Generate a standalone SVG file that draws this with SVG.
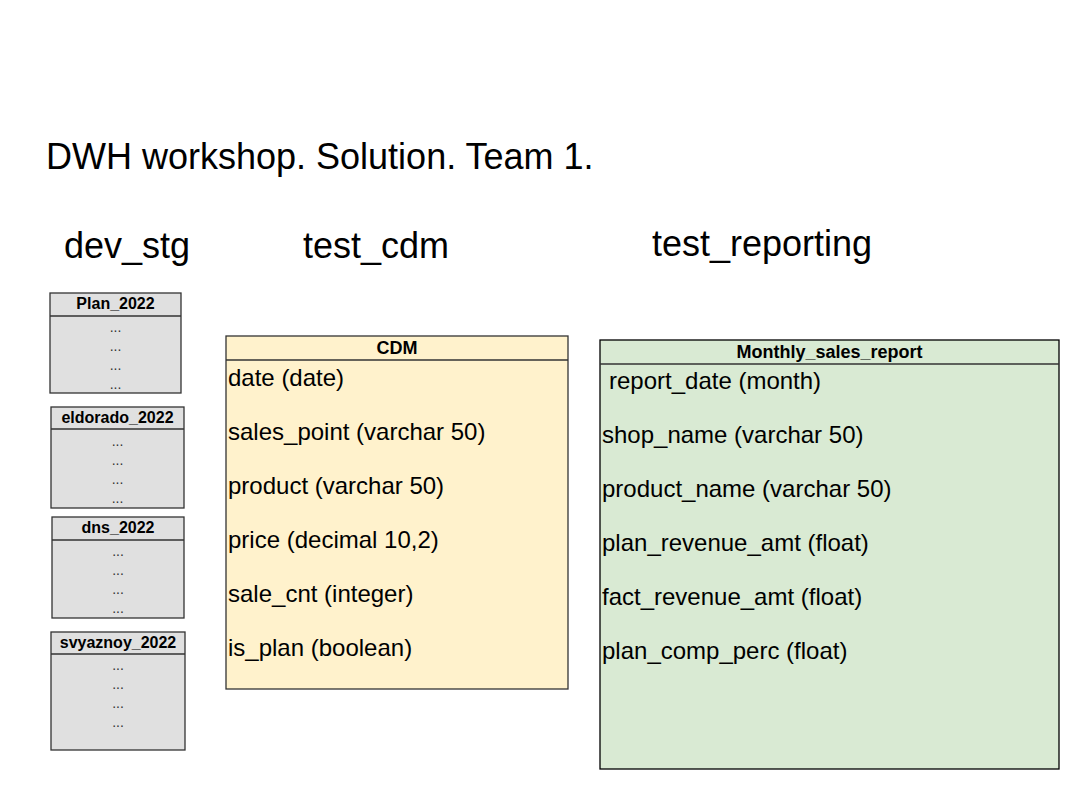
<svg xmlns="http://www.w3.org/2000/svg" width="1080" height="789" viewBox="0 0 1080 789">
<style>
text{font-family:"Liberation Sans",Arial,sans-serif;fill:#000}
.title{font-size:36px}
.schema{font-size:36px}
.hdr{font-size:16px;font-weight:bold;text-anchor:middle}
.hdr2{font-size:18px;font-weight:bold;text-anchor:middle}
.dots{font-size:14px;text-anchor:middle;fill:#333}
.fld{font-size:24px}
.stg{fill:#e0e0e0;stroke:#333;stroke-width:1.3}
.cdm{fill:#fff2cc;stroke:#333;stroke-width:1.3}
.rep{fill:#d9ead3;stroke:#000;stroke-width:1.3}
.sep{stroke:#333;stroke-width:1.3}
</style>
<rect width="1080" height="789" fill="#fff"/>
<text class="title" x="46" y="169">DWH workshop. Solution. Team 1.</text>
<text class="schema" x="64" y="258">dev_stg</text>
<text class="schema" x="303" y="258">test_cdm</text>
<text class="schema" x="652" y="256">test_reporting</text>
<g id="plan_2022">
<rect class="stg" x="50" y="293" width="131" height="100"/>
<line class="sep" x1="50" y1="316" x2="181" y2="316"/>
<text class="hdr" x="115.5" y="309">Plan_2022</text>
<text class="dots" x="115.5" y="332">...</text>
<text class="dots" x="115.5" y="351">...</text>
<text class="dots" x="115.5" y="370">...</text>
<text class="dots" x="115.5" y="389">...</text>
</g>
<g id="eldorado_2022">
<rect class="stg" x="51" y="407" width="133" height="101"/>
<line class="sep" x1="51" y1="429" x2="184" y2="429"/>
<text class="hdr" x="117.5" y="423">eldorado_2022</text>
<text class="dots" x="117.5" y="446">...</text>
<text class="dots" x="117.5" y="465">...</text>
<text class="dots" x="117.5" y="484">...</text>
<text class="dots" x="117.5" y="503">...</text>
</g>
<g id="dns_2022">
<rect class="stg" x="52" y="517" width="132" height="101"/>
<line class="sep" x1="52" y1="540" x2="184" y2="540"/>
<text class="hdr" x="118" y="533">dns_2022</text>
<text class="dots" x="118" y="556">...</text>
<text class="dots" x="118" y="575">...</text>
<text class="dots" x="118" y="594">...</text>
<text class="dots" x="118" y="613">...</text>
</g>
<g id="svyaznoy_2022">
<rect class="stg" x="51" y="632" width="134" height="118"/>
<line class="sep" x1="51" y1="654" x2="185" y2="654"/>
<text class="hdr" x="118" y="648">svyaznoy_2022</text>
<text class="dots" x="118" y="670">...</text>
<text class="dots" x="118" y="689">...</text>
<text class="dots" x="118" y="708">...</text>
<text class="dots" x="118" y="727">...</text>
</g>
<g id="cdm">
<rect class="cdm" x="226" y="336" width="342" height="353"/>
<line class="sep" x1="226" y1="360" x2="568" y2="360"/>
<text class="hdr2" x="397" y="354">CDM</text>
<text class="fld" x="228" y="386">date (date)</text>
<text class="fld" x="228" y="440">sales_point (varchar 50)</text>
<text class="fld" x="228" y="494">product (varchar 50)</text>
<text class="fld" x="228" y="548">price (decimal 10,2)</text>
<text class="fld" x="228" y="602">sale_cnt (integer)</text>
<text class="fld" x="228" y="656">is_plan (boolean)</text>
</g>
<g id="monthly_sales_report">
<rect class="rep" x="600" y="340" width="459" height="429"/>
<line class="sep" x1="600" y1="364" x2="1059" y2="364"/>
<text class="hdr2" x="829.5" y="358">Monthly_sales_report</text>
<text class="fld" x="609" y="389">report_date (month)</text>
<text class="fld" x="602" y="443">shop_name (varchar 50)</text>
<text class="fld" x="602" y="497">product_name (varchar 50)</text>
<text class="fld" x="602" y="551">plan_revenue_amt (float)</text>
<text class="fld" x="602" y="605">fact_revenue_amt (float)</text>
<text class="fld" x="602" y="659">plan_comp_perc (float)</text>
</g>
<g id="connectors"/>
</svg>
